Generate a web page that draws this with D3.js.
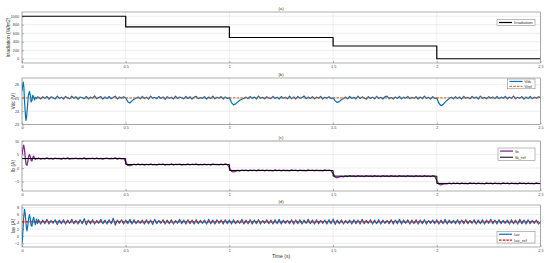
<!DOCTYPE html>
<meta charset="utf-8">
<head>
<style>
  body { margin: 0; background: #fff; }
  svg { display: block; font-family: "Liberation Sans", Arial, sans-serif; }
  .tick text { font-size: 3.8px; fill: #3a3a3a; }
  .tick line { stroke: #666; stroke-width: 0.5; }
  .domain { display: none; }
  .grid line { stroke: #e0e0e0; stroke-width: 0.6; }
  .frame { fill: none; stroke: #7a7a7a; stroke-width: 0.6; }
  .lbl { font-size: 5px; fill: #333; }
  .ttl { font-size: 4.2px; fill: #333; }
  .leg rect { fill: #fff; stroke: #777; stroke-width: 0.5; }
  .leg text { font-size: 4.2px; fill: #333; }
</style>
</head>
<body>
<div id="content"></div>
<script src="https://d3js.org/d3.v7.min.js"></script>
<script>

// ---- data ----
var timeTicks = [0, 0.5, 1, 1.5, 2, 2.5];
var switchTimes = [0, 0.5, 1, 1.5, 2, 2.5];
var irradiation = [1000, 750, 500, 300, 0, 0];
var vrefValue = 25;
var ibRefLevels = [3.5, 1.3, -0.9, -3.0, -5.7, -5.7];
var iavRefValue = 4;

// sampled signals: start-up transient as [t, value], then steady samples every dt from tSteady
var dt = 0.01, tSteady = 0.08;

var vdcStart = [[0,25.5],[0.003,25.9],[0.006,26.2],[0.009,25.8],[0.012,24.8],[0.016,23.8],[0.019,23.3],
  [0.023,23.7],[0.027,24.5],[0.031,25.2],[0.036,25.5],[0.04,25.2],[0.044,24.7],[0.048,24.8],[0.052,25.2],
  [0.056,25.1],[0.06,24.85],[0.065,25.05],[0.07,24.95],[0.075,25.08]];
var vdcSteady = [25.05,24.92,
  25.10,24.95,25.12,24.90,25.08,25.02,24.93,25.14,24.96,25.06,
  24.91,25.11,25.00,24.94,25.13,24.97,25.09,24.90,25.07,25.03,
  24.95,25.12,24.92,25.06,24.98,25.15,24.93,25.04,25.10,24.91,
  25.08,24.96,25.11,24.94,25.05,25.13,24.92,25.07,24.97,25.09,
  25.00,24.72,24.62,24.78,24.90,24.97,25.08,24.93,25.12,24.95,
  25.06,24.91,25.14,24.98,25.04,24.93,25.11,24.96,25.08,24.90,
  25.10,24.97,25.05,24.92,25.13,24.95,25.07,25.01,24.93,25.11,
  24.96,25.09,24.91,25.06,25.12,24.94,25.03,24.97,25.10,24.92,
  25.07,24.95,25.13,24.93,25.05,24.98,25.10,24.91,25.08,24.96,
  25.02,24.65,24.48,24.55,24.70,24.82,24.90,24.98,25.06,24.94,
  25.11,24.95,25.07,24.92,25.14,24.97,25.04,24.93,25.09,25.00,
  24.94,25.12,24.96,25.06,24.91,25.10,24.98,25.05,24.93,25.13,
  24.95,25.08,24.92,25.11,24.97,25.04,25.15,24.94,25.07,24.96,
  25.10,24.93,25.06,24.98,25.12,24.91,25.05,24.97,25.09,24.95,
  25.01,24.78,24.66,24.74,24.86,24.95,25.07,24.93,25.11,24.96,
  25.05,24.92,25.13,24.95,25.08,24.99,24.91,25.10,24.96,25.06,
  24.93,25.12,24.97,25.04,24.92,25.09,25.14,24.95,25.03,24.91,
  25.08,24.96,25.11,24.93,25.06,24.98,25.12,24.94,25.05,24.97,
  25.10,24.92,25.07,24.95,25.13,24.96,25.04,24.91,25.09,24.97,
  25.00,24.60,24.42,24.50,24.68,24.83,24.95,25.06,24.93,25.10,
  24.96,25.08,24.92,25.12,24.97,25.05,24.94,25.11,24.98,25.07,
  24.91,25.13,24.96,25.04,24.93,25.10,24.97,25.08,24.95,25.12,
  24.94,25.06,24.98,25.11,24.92,25.07,24.96,25.14,24.93,25.05,
  24.97,25.10,24.91,25.08,24.95,25.12,24.94,25.06,24.98,25.09,25.02];

var ibStart = [[0,5],[0.004,7.2],[0.008,8.5],[0.012,7.0],[0.016,3.5],[0.02,1.3],[0.024,1.0],[0.028,2.5],
  [0.032,4.3],[0.036,5.0],[0.04,4.2],[0.044,2.8],[0.048,2.6],[0.052,3.8],[0.056,4.4],[0.06,3.8],
  [0.065,3.2],[0.07,3.6],[0.075,3.4]];
var ibSteady = [3.7,3.3,
  3.6,3.35,3.75,3.4,3.55,3.3,3.7,3.45,3.6,3.25,
  3.65,3.4,3.75,3.3,3.55,3.45,3.7,3.35,3.6,3.4,
  3.75,3.3,3.55,3.45,3.65,3.35,3.7,3.4,3.6,3.3,
  3.55,3.7,3.35,3.6,3.45,3.75,3.3,3.65,3.4,3.55,
  2.4,1.0,0.9,1.1,1.4,1.2,1.5,1.15,1.45,1.1,
  1.4,1.15,1.5,1.2,1.35,1.05,1.45,1.25,1.5,1.1,
  1.35,1.2,1.55,1.1,1.4,1.25,1.45,1.05,1.35,1.2,
  1.5,1.15,1.4,1.25,1.55,1.1,1.35,1.2,1.45,1.15,
  1.4,1.1,1.5,1.25,1.35,1.15,1.45,1.2,1.5,1.3,
  0.2,-1.2,-1.4,-1.2,-0.9,-1.1,-0.75,-1.0,-0.8,-1.05,
  -0.75,-1.0,-0.8,-1.1,-0.7,-0.95,-0.8,-1.05,-0.75,-1.0,
  -0.85,-1.1,-0.7,-0.95,-0.8,-1.05,-0.75,-1.0,-0.85,-1.1,
  -0.7,-0.95,-0.8,-1.1,-0.75,-1.0,-0.85,-1.05,-0.7,-0.95,
  -0.8,-1.05,-0.75,-1.0,-0.85,-1.1,-0.7,-0.95,-0.8,-1.0,
  -2.0,-3.4,-3.6,-3.3,-3.1,-3.25,-2.9,-3.15,-2.85,-3.1,
  -2.9,-3.15,-2.85,-3.1,-2.95,-3.2,-2.8,-3.05,-2.9,-3.15,
  -2.85,-3.1,-2.95,-3.2,-2.8,-3.05,-2.9,-3.15,-2.85,-3.1,
  -2.95,-3.2,-2.8,-3.05,-2.9,-3.15,-2.85,-3.1,-2.95,-3.2,
  -2.8,-3.05,-2.9,-3.15,-2.85,-3.1,-2.95,-3.2,-2.85,-3.05,
  -4.6,-6.0,-6.2,-5.95,-5.8,-5.9,-5.6,-5.85,-5.55,-5.8,
  -5.6,-5.85,-5.55,-5.8,-5.65,-5.9,-5.5,-5.75,-5.6,-5.85,
  -5.55,-5.8,-5.65,-5.9,-5.5,-5.75,-5.6,-5.85,-5.55,-5.8,
  -5.65,-5.9,-5.5,-5.75,-5.6,-5.85,-5.55,-5.8,-5.65,-5.9,
  -5.5,-5.75,-5.6,-5.85,-5.55,-5.8,-5.65,-5.9,-5.5,-5.75,-5.7];

var iavStart = [[0,-2],[0.004,1],[0.008,5],[0.012,7.5],[0.016,6],[0.02,3],[0.024,1.5],[0.028,3],
  [0.032,5],[0.036,6],[0.04,5],[0.044,3],[0.048,2.8],[0.052,4.5],[0.056,5.3],[0.06,4.2],
  [0.065,3.2],[0.07,4.8],[0.075,3.5]];
var iavSteady = [4.6,3.4,
  4.5,3.5,4.7,3.4,4.4,3.6,4.6,3.3,4.5,3.5,
  4.6,3.4,4.5,3.6,4.7,3.5,4.4,3.4,4.6,3.5,
  4.9,3.2,4.5,3.5,4.6,3.4,4.4,3.6,4.7,3.5,
  4.5,3.4,4.6,3.5,5.0,3.1,4.5,3.6,4.6,3.4,
  4.5,3.5,4.7,3.4,4.6,3.5,4.4,3.6,4.5,3.4,
  4.6,3.5,4.5,3.3,4.7,3.5,4.4,3.6,4.6,3.4,
  4.5,3.5,4.6,3.4,4.4,3.6,4.7,3.5,4.5,3.4,
  4.6,3.5,4.5,3.4,4.6,3.5,4.4,3.6,4.5,3.4,
  4.7,3.5,4.5,3.4,4.6,3.6,4.5,3.4,4.6,3.5,
  4.5,3.4,4.6,3.5,4.4,3.6,4.7,3.4,4.5,3.5,
  4.6,3.4,4.5,3.5,4.6,3.4,4.4,3.6,4.6,3.5,
  4.5,3.4,4.6,3.5,4.7,3.4,4.5,3.6,4.4,3.5,
  4.6,3.4,4.5,3.5,4.6,3.4,4.5,3.6,4.7,3.5,
  4.5,3.4,4.6,3.5,4.4,3.6,4.5,3.4,4.6,3.5,
  4.8,3.3,4.5,3.5,4.6,3.4,4.4,3.6,4.5,3.4,
  4.6,3.5,4.5,3.4,4.7,3.5,4.4,3.6,4.6,3.4,
  4.5,3.5,4.6,3.4,4.5,3.6,4.4,3.5,4.6,3.4,
  4.5,3.5,4.7,3.4,4.5,3.6,4.6,3.4,4.5,3.5,
  4.6,3.4,4.5,3.5,4.6,3.4,4.4,3.6,4.5,3.5,
  4.6,3.4,4.5,3.5,4.7,3.4,4.5,3.6,4.4,3.5,
  4.6,3.4,4.5,3.5,4.6,3.5,4.4,3.6,4.6,3.4,
  4.5,3.5,4.6,3.4,4.5,3.6,4.7,3.5,4.5,3.4,
  4.6,3.5,4.4,3.6,4.5,3.4,4.6,3.5,4.5,3.4,
  4.7,3.5,4.5,3.4,4.6,3.5,4.4,3.6,4.5,3.4,4.0];

function sampled(start, steady) {
  return start.concat(steady.map(function(v, i) { return [tSteady + i * dt, v]; }));
}
function steps(levels) {
  return switchTimes.map(function(t, i) { return [t, levels[i]]; });
}
function flat(v) { return [[0, v], [2.5, v]]; }

// panel layout
var W = 550, H = 263;
var x = d3.scaleLinear().domain([0, 2.5]).range([22, 540.5]);

var panels = [
  { title: "(a)", ylabel: "Irradiation (W/m2)", labelX: 8, top: 12, bottom: 63, domain: [-100, 1100],
    yticks: [0, 200, 400, 600, 800, 1000],
    series: [{ data: steps(irradiation), color: "#000", width: 1.2, step: true, name: "Irradiation" }],
    legend: { x: 497, y: 19.3, w: 38, h: 6.4 } },
  { title: "(b)", ylabel: "Vdc (V)", labelX: 13.5, top: 78, bottom: 124.5, domain: [23, 26.5],
    yticks: [23, 24, 25, 26],
    series: [{ data: sampled(vdcStart, vdcSteady), color: "#0072BD", width: 1.2, name: "Vdc" },
             { data: flat(vrefValue), color: "#D95319", width: 1, dash: "2.5,1.2", name: "Vref" }],
    legend: { x: 507.5, y: 79, w: 27.5, h: 9.8 } },
  { title: "(c)", ylabel: "Ib (A)", labelX: 13.5, top: 141, bottom: 191, domain: [-8.5, 10],
    yticks: [-5, 0, 5, 10],
    series: [{ data: sampled(ibStart, ibSteady), color: "#7E2F8E", width: 1.3, name: "Ib" },
             { data: steps(ibRefLevels), color: "#000", width: 1, step: true, name: "Ib_ref" }],
    legend: { x: 498, y: 148, w: 37, h: 12.3 } },
  { title: "(d)", ylabel: "Iav (A)", labelX: 13.5, top: 205, bottom: 247, domain: [-3, 8.7],
    yticks: [-2, 0, 2, 4, 6, 8],
    series: [{ data: sampled(iavStart, iavSteady), color: "#0072BD", width: 1.2, name: "Iav" },
             { data: flat(iavRefValue), color: "#FF0000", width: 1.3, dash: "2.5,1.2", name: "Iav_ref" }],
    legend: { x: 497, y: 231.3, w: 38, h: 11.7 } }
];

var svg = d3.select("#content").append("svg")
  .attr("width", W).attr("height", H);

panels.forEach(function(p, k) {
  var y = d3.scaleLinear().domain(p.domain).range([p.bottom, p.top]);
  var g = svg.append("g");

  // grid
  var grid = g.append("g").attr("class", "grid");
  grid.selectAll(".gx").data(timeTicks).enter().append("line")
    .attr("x1", function(d) { return x(d); }).attr("x2", function(d) { return x(d); })
    .attr("y1", p.top).attr("y2", p.bottom);
  grid.selectAll(".gy").data(p.yticks).enter().append("line")
    .attr("x1", x.range()[0]).attr("x2", x.range()[1])
    .attr("y1", function(d) { return y(d); }).attr("y2", function(d) { return y(d); });

  // axes (ticks point inwards like matlab)
  g.append("g").attr("transform", "translate(0," + p.bottom + ")")
    .call(d3.axisBottom(x).tickValues(timeTicks).tickFormat(d3.format("~g"))
      .tickSizeInner(-2).tickSizeOuter(0).tickPadding(2.2));
  g.append("g").attr("transform", "translate(" + x.range()[0] + ",0)")
    .call(d3.axisLeft(y).tickValues(p.yticks).tickFormat(d3.format("~g"))
      .tickSizeInner(-2).tickSizeOuter(0).tickPadding(2.8));

  // clipped signals
  var cid = "clip" + k;
  g.append("clipPath").attr("id", cid).append("rect")
    .attr("x", x.range()[0]).attr("y", p.top)
    .attr("width", x.range()[1] - x.range()[0]).attr("height", p.bottom - p.top);
  var lines = g.append("g").attr("clip-path", "url(#" + cid + ")");
  p.series.forEach(function(s) {
    var line = d3.line()
      .x(function(d) { return x(d[0]); })
      .y(function(d) { return y(d[1]); })
      .curve(s.step ? d3.curveStepAfter : d3.curveLinear);
    lines.append("path")
      .attr("d", line(s.data))
      .attr("fill", "none")
      .attr("stroke", s.color)
      .attr("stroke-width", s.width)
      .attr("stroke-linejoin", "round")
      .attr("stroke-dasharray", s.dash || null);
  });

  g.append("rect").attr("class", "frame")
    .attr("x", x.range()[0]).attr("y", p.top)
    .attr("width", x.range()[1] - x.range()[0]).attr("height", p.bottom - p.top);

  // title + y label
  g.append("text").attr("class", "ttl")
    .attr("x", 281).attr("y", p.top - 2.2)
    .attr("text-anchor", "middle").text(p.title);
  g.append("text").attr("class", "lbl")
    .attr("transform", "translate(" + p.labelX + "," + (p.top + p.bottom) / 2 + ") rotate(-90)")
    .attr("text-anchor", "middle").attr("dy", "0.35em").text(p.ylabel);

  // legend
  var L = p.legend;
  var leg = g.append("g").attr("class", "leg");
  leg.append("rect").attr("x", L.x).attr("y", L.y).attr("width", L.w).attr("height", L.h);
  var rowH = L.h / p.series.length;
  p.series.forEach(function(s, i) {
    var cy = L.y + rowH * (i + 0.5);
    leg.append("line")
      .attr("x1", L.x + 2).attr("x2", L.x + 15)
      .attr("y1", cy).attr("y2", cy)
      .attr("stroke", s.color).attr("stroke-width", s.width)
      .attr("stroke-dasharray", s.dash || null);
    leg.append("text")
      .attr("x", L.x + 17).attr("y", cy).attr("dy", "0.35em")
      .text(s.name);
  });
});

svg.append("text").attr("class", "lbl")
  .attr("x", 281).attr("y", 258).attr("text-anchor", "middle")
  .text("Time (s)");

</script>
</body>
</html>
